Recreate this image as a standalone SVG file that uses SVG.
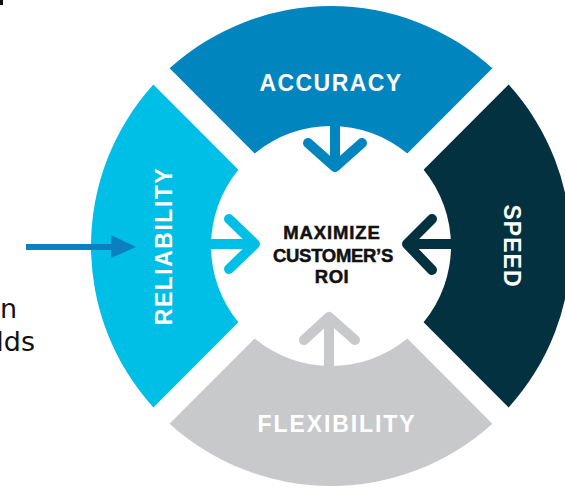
<svg xmlns="http://www.w3.org/2000/svg" width="565" height="488" viewBox="0 0 565 488">
  <style>
    .seg-label { font-family: "Liberation Sans", Arial, sans-serif; font-weight: bold; font-size: 23px; fill: #ffffff; text-anchor: middle; }
    .center-label { font-family: "Liberation Sans", Arial, sans-serif; font-weight: bold; font-size: 18.5px; fill: #111111; stroke: #111111; stroke-width: 0.5; text-anchor: middle; }
    .side-text { font-family: "DejaVu Sans", Verdana, sans-serif; font-size: 27px; fill: #111111; text-anchor: end; }
    .chev { fill: none; stroke-width: 10; stroke-linecap: round; stroke-linejoin: round; }
  </style>
  <rect width="565" height="488" fill="#ffffff"/>
  <rect x="0" y="0" width="3" height="5" fill="#111111"/>

  <g id="side-text">
    <text class="side-text" x="17" y="318">n</text>
    <text class="side-text" x="35" y="351">lds</text>
  </g>

  <g id="accuracy">
    <path d="M169.62,68.36 A240,240 0 0 1 492.38,68.36 L407.33,153.41 A120,120 0 0 0 254.67,153.41 Z" fill="#0085bf"/>
    <text class="seg-label" x="331" y="91" letter-spacing="1.4">ACCURACY</text>
  </g>
  <g id="speed">
    <path d="M508.64,84.62 A240,240 0 0 1 508.64,407.38 L423.59,322.33 A120,120 0 0 0 423.59,169.67 Z" fill="#033140"/>
    <text class="seg-label" transform="translate(512,246) rotate(90)" y="8" letter-spacing="1">SPEED</text>
  </g>
  <g id="flexibility">
    <path d="M492.38,423.64 A240,240 0 0 1 169.62,423.64 L254.67,338.59 A120,120 0 0 0 407.33,338.59 Z" fill="#c8c9cb"/>
    <text class="seg-label" x="337" y="432" letter-spacing="1.9" fill="#f4f4f4">FLEXIBILITY</text>
  </g>
  <g id="reliability">
    <path d="M153.36,407.38 A240,240 0 0 1 153.36,84.62 L238.41,169.67 A120,120 0 0 0 238.41,322.33 Z" fill="#00bfe6"/>
    <text class="seg-label" transform="translate(164,246) rotate(-90)" y="8" letter-spacing="1.5">RELIABILITY</text>
  </g>

  <g id="center">
    <text class="center-label" x="332" y="239" letter-spacing="0.9">MAXIMIZE</text>
    <text class="center-label" x="333" y="262" letter-spacing="-0.3">CUSTOMER’S</text>
    <text class="center-label" x="332" y="283" letter-spacing="0.5">ROI</text>
  </g>

  <g id="connectors">
    <path class="chev" stroke="#0085bf" d="M335,120 L335,166 M308,143 L335,167 L362,143"/>
    <path class="chev" stroke="#c8c9cb" d="M329,380 L329,318 M304,340 L329,317 L355,340"/>
    <path class="chev" stroke="#033140" d="M462,244 L408,244 M432,219 L407,244 L432,270"/>
    <path class="chev" stroke="#00bfe6" d="M205,244 L254,244 M229,219 L255,244 L229,269"/>
    <line x1="26" y1="247" x2="114" y2="247" stroke="#0b80be" stroke-width="6"/>
    <polygon points="111,235 136,247 111,258" fill="#0b80be"/>
  </g>
</svg>
